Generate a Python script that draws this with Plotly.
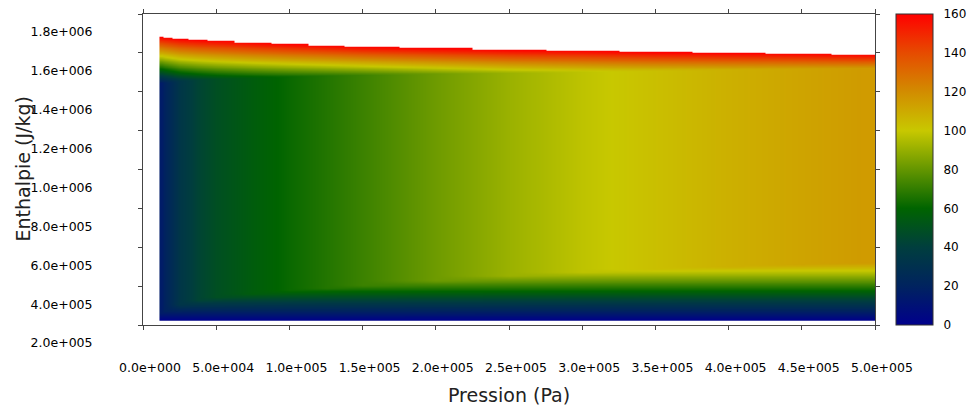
import numpy as np
import plotly.graph_objects as go

# ---- data ----
pressure = [1.25e4, 1.5e4, 2.5e4, 3.75e4, 5e4, 7.5e4, 1e5, 1.25e5, 1.5e5,
            2e5, 2.5e5, 3e5, 3.5e5, 4e5, 4.5e5, 4.9e5, 5e5]
t_sat = [16, 20, 34, 43, 49, 56, 62, 67, 72, 82, 91, 98, 103, 108, 112, 115, 115]
h_liq = [2.61e5, 2.71e5, 3.05e5, 3.28e5, 3.43e5, 3.61e5, 3.77e5, 3.90e5, 4.03e5,
         4.29e5, 4.53e5, 4.72e5, 4.86e5, 5.00e5, 5.11e5, 5.19e5, 5.19e5]
h_vap = [1.445e6, 1.447e6, 1.455e6, 1.462e6, 1.466e6, 1.472e6, 1.478e6, 1.483e6, 1.487e6,
         1.493e6, 1.498e6, 1.504e6, 1.509e6, 1.514e6, 1.519e6, 1.522e6, 1.523e6]
h_top = [1.682e6, 1.680e6, 1.672e6, 1.667e6, 1.663e6, 1.654e6, 1.646e6, 1.639e6, 1.632e6,
         1.624e6, 1.616e6, 1.612e6, 1.604e6, 1.600e6, 1.597e6, 1.593e6, 1.592e6]
h_bottom = 2.22e5
t_bottom = 0
t_top = 160

x_tickvals = [0, 5e4, 1e5, 1.5e5, 2e5, 2.5e5, 3e5, 3.5e5, 4e5, 4.5e5, 5e5]
x_ticktext = ["0.0e+000", "5.0e+004", "1.0e+005", "1.5e+005", "2.0e+005", "2.5e+005",
              "3.0e+005", "3.5e+005", "4.0e+005", "4.5e+005", "5.0e+005"]
y_tickvals = [2e5, 4e5, 6e5, 8e5, 1e6, 1.2e6, 1.4e6, 1.6e6, 1.8e6]
y_ticktext = ["2.0e+005", "4.0e+005", "6.0e+005", "8.0e+005", "1.0e+006",
              "1.2e+006", "1.4e+006", "1.6e+006", "1.8e+006"]
cbar_ticks = [0, 20, 40, 60, 80, 100, 120, 140, 160]

# ---- table for the heatmap (temperature per pressure column / enthalpy row) ----
h_grid = np.arange(h_bottom, max(h_top) + 2000, 2000.0)
z = [[None] * len(pressure) for _ in h_grid]
for j in range(len(pressure)):
    col = np.interp(h_grid, [h_bottom, h_liq[j], h_vap[j], h_top[j]],
                    [t_bottom, t_sat[j], t_sat[j], t_top])
    for i, h in enumerate(h_grid):
        if h <= h_top[j]:
            z[i][j] = float(col[i])

colorscale = [
    [0.0, "rgb(0,0,140)"],
    [0.125, "rgb(0,35,95)"],
    [0.25, "rgb(0,62,62)"],
    [0.375, "rgb(0,100,0)"],
    [0.5, "rgb(100,150,0)"],
    [0.625, "rgb(200,200,0)"],
    [0.75, "rgb(210,140,0)"],
    [0.875, "rgb(230,75,0)"],
    [1.0, "rgb(255,0,0)"],
]

fig = go.Figure(go.Heatmap(
    x=pressure, y=h_grid.tolist(), z=z,
    zmin=0, zmax=160, zsmooth="best",
    colorscale=colorscale,
    colorbar=dict(
        thickness=37, thicknessmode="pixels", len=1, lenmode="fraction",
        x=1.0287, xanchor="left", y=0.5, yanchor="middle", xpad=0, ypad=0,
        outlinewidth=1, outlinecolor="#333",
        tickvals=cbar_ticks, ticks="outside", ticklen=8, tickcolor="rgba(0,0,0,0)",
        tickfont=dict(size=12, color="#000"),
    ),
    hoverinfo="skip",
))

axis_common = dict(
    ticks="outside", ticklen=4, tickcolor="#444", showline=True, linecolor="#444",
    linewidth=1, mirror="ticks", showgrid=False, zeroline=False, automargin=False,
)
fig.update_xaxes(range=[0, 5e5], tickvals=x_tickvals, ticktext=x_ticktext,
                 ticklabelstandoff=27, ticklabelshift=7,
                 tickfont=dict(size=12.5, color="#000"), **axis_common)
fig.update_yaxes(range=[2e5, 1.8e6], tickvals=y_tickvals, ticktext=y_ticktext,
                 ticklabelstandoff=43, ticklabelshift=18,
                 tickfont=dict(size=12.5, color="#000"), **axis_common)

fig.update_layout(
    width=968, height=410,
    margin=dict(l=143, r=93, t=14, b=85, autoexpand=False),
    paper_bgcolor="white", plot_bgcolor="white",
    font=dict(family="DejaVu Sans", size=13, color="#000"),
    annotations=[
        dict(text="Pression (Pa)", x=0.5, y=-0.225, xref="paper", yref="paper",
             xanchor="center", yanchor="middle", showarrow=False,
             font=dict(size=19, color="#222")),
        dict(text="Enthalpie (J/kg)", x=-0.1653, y=0.5, xref="paper", yref="paper",
             xanchor="center", yanchor="middle", textangle=-90, showarrow=False,
             font=dict(size=19, color="#222")),
    ],
)

# remove the browser's default page margin so the figure fills the window exactly
fig.write_html("out.html", config={"displayModeBar": False},
               post_script="document.body.style.margin='0';")
